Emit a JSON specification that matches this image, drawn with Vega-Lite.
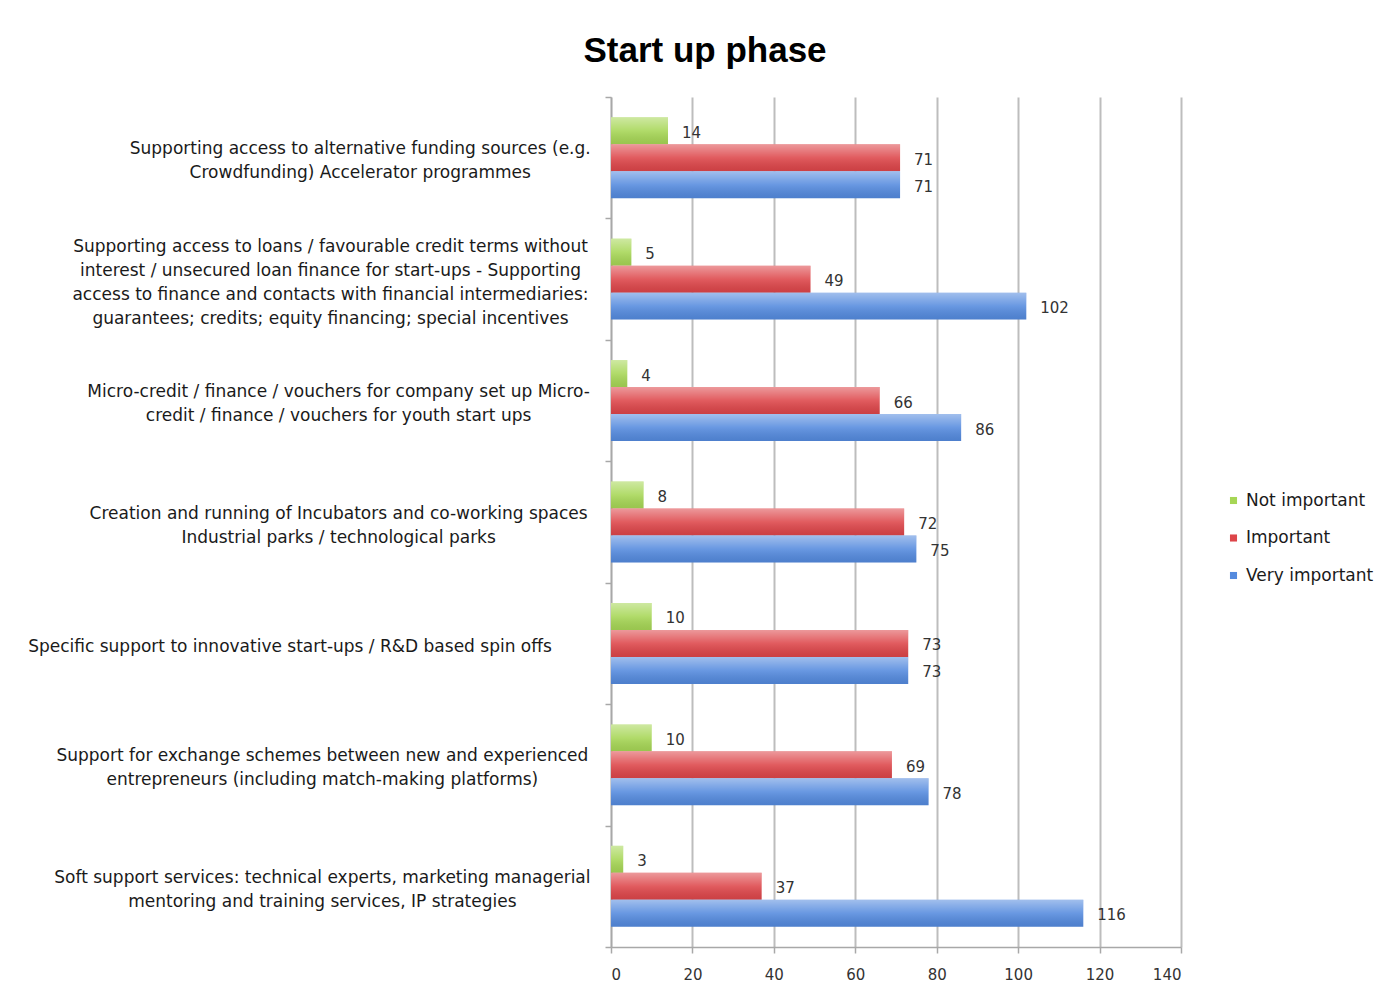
{
  "$schema": "https://vega.github.io/schema/vega-lite/v6.json",
  "autosize": {"type": "none"},
  "padding": {"left": 611, "top": 97, "right": 197, "bottom": 48},
  "width": 570,
  "height": 850,
  "background": "white",
  "title": {
    "text": "Start up phase",
    "anchor": "middle",
    "frame": "group",
    "dx": -191,
    "font": "Liberation Sans",
    "fontSize": 35,
    "fontWeight": "bold",
    "color": "#000000",
    "baseline": "alphabetic",
    "offset": -9
  },
  "config": {
    "view": {"stroke": null},
    "axis": {"labelFont": "DejaVu Sans", "titleFont": "DejaVu Sans"}
  },
  "data": {
    "values": [
      {"measure": "\u200b\u00a0\u00a0\u00a0\u00a0\u00a0\u00a0\u00a0\u00a0\u00a0\u00a0\u00a0Supporting access to alternative funding sources (e.g.|\u200b\u00a0\u00a0\u00a0\u00a0\u00a0\u00a0\u00a0\u00a0\u00a0\u00a0\u00a0Crowdfunding) Accelerator programmes", "level": "Not important", "count": 14},
      {"measure": "\u200b\u00a0\u00a0\u00a0\u00a0\u00a0\u00a0\u00a0\u00a0\u00a0\u00a0\u00a0Supporting access to alternative funding sources (e.g.|\u200b\u00a0\u00a0\u00a0\u00a0\u00a0\u00a0\u00a0\u00a0\u00a0\u00a0\u00a0Crowdfunding) Accelerator programmes", "level": "Important", "count": 71},
      {"measure": "\u200b\u00a0\u00a0\u00a0\u00a0\u00a0\u00a0\u00a0\u00a0\u00a0\u00a0\u00a0Supporting access to alternative funding sources (e.g.|\u200b\u00a0\u00a0\u00a0\u00a0\u00a0\u00a0\u00a0\u00a0\u00a0\u00a0\u00a0Crowdfunding) Accelerator programmes", "level": "Very important", "count": 71},
      {"measure": "Supporting access to loans / favourable credit terms without|interest / unsecured loan finance for start-ups - Supporting|access to finance and contacts with financial intermediaries:|guarantees; credits;  equity financing; special incentives", "level": "Not important", "count": 5},
      {"measure": "Supporting access to loans / favourable credit terms without|interest / unsecured loan finance for start-ups - Supporting|access to finance and contacts with financial intermediaries:|guarantees; credits;  equity financing; special incentives", "level": "Important", "count": 49},
      {"measure": "Supporting access to loans / favourable credit terms without|interest / unsecured loan finance for start-ups - Supporting|access to finance and contacts with financial intermediaries:|guarantees; credits;  equity financing; special incentives", "level": "Very important", "count": 102},
      {"measure": "\u200b\u00a0\u00a0\u00a0Micro-credit / finance / vouchers for company set up Micro-|\u200b\u00a0\u00a0\u00a0credit / finance / vouchers for youth start ups", "level": "Not important", "count": 4},
      {"measure": "\u200b\u00a0\u00a0\u00a0Micro-credit / finance / vouchers for company set up Micro-|\u200b\u00a0\u00a0\u00a0credit / finance / vouchers for youth start ups", "level": "Important", "count": 66},
      {"measure": "\u200b\u00a0\u00a0\u00a0Micro-credit / finance / vouchers for company set up Micro-|\u200b\u00a0\u00a0\u00a0credit / finance / vouchers for youth start ups", "level": "Very important", "count": 86},
      {"measure": "\u200b\u00a0\u00a0\u00a0Creation and running of Incubators and co-working spaces|\u200b\u00a0\u00a0\u00a0Industrial parks / technological parks", "level": "Not important", "count": 8},
      {"measure": "\u200b\u00a0\u00a0\u00a0Creation and running of Incubators and co-working spaces|\u200b\u00a0\u00a0\u00a0Industrial parks / technological parks", "level": "Important", "count": 72},
      {"measure": "\u200b\u00a0\u00a0\u00a0Creation and running of Incubators and co-working spaces|\u200b\u00a0\u00a0\u00a0Industrial parks / technological parks", "level": "Very important", "count": 75},
      {"measure": "Specific support to innovative start-ups / R&D based spin offs\u00a0\u00a0\u00a0\u00a0\u00a0\u00a0\u00a0\u00a0\u00a0\u00a0\u00a0\u00a0\u00a0\u00a0\u00a0\u200b", "level": "Not important", "count": 10},
      {"measure": "Specific support to innovative start-ups / R&D based spin offs\u00a0\u00a0\u00a0\u00a0\u00a0\u00a0\u00a0\u00a0\u00a0\u00a0\u00a0\u00a0\u00a0\u00a0\u00a0\u200b", "level": "Important", "count": 73},
      {"measure": "Specific support to innovative start-ups / R&D based spin offs\u00a0\u00a0\u00a0\u00a0\u00a0\u00a0\u00a0\u00a0\u00a0\u00a0\u00a0\u00a0\u00a0\u00a0\u00a0\u200b", "level": "Very important", "count": 73},
      {"measure": "Support for exchange schemes between new and experienced\u00a0\u00a0\u00a0\u200b|entrepreneurs (including match-making platforms)\u00a0\u00a0\u00a0\u200b", "level": "Not important", "count": 10},
      {"measure": "Support for exchange schemes between new and experienced\u00a0\u00a0\u00a0\u200b|entrepreneurs (including match-making platforms)\u00a0\u00a0\u00a0\u200b", "level": "Important", "count": 69},
      {"measure": "Support for exchange schemes between new and experienced\u00a0\u00a0\u00a0\u200b|entrepreneurs (including match-making platforms)\u00a0\u00a0\u00a0\u200b", "level": "Very important", "count": 78},
      {"measure": "Soft support services: technical experts, marketing managerial\u00a0\u00a0\u00a0\u200b|mentoring and training services, IP strategies\u00a0\u00a0\u00a0\u200b", "level": "Not important", "count": 3},
      {"measure": "Soft support services: technical experts, marketing managerial\u00a0\u00a0\u00a0\u200b|mentoring and training services, IP strategies\u00a0\u00a0\u00a0\u200b", "level": "Important", "count": 37},
      {"measure": "Soft support services: technical experts, marketing managerial\u00a0\u00a0\u00a0\u200b|mentoring and training services, IP strategies\u00a0\u00a0\u00a0\u200b", "level": "Very important", "count": 116}
    ]
  },
  "encoding": {
    "y": {
      "field": "measure",
      "type": "nominal",
      "sort": null,
      "scale": {"paddingInner": 0, "paddingOuter": 0},
      "axis": {
        "title": null,
        "labelExpr": "length(split(datum.label, '|')) == 1 ? ['\u200b\u00a0\u200b', '\u200b\u00a0\u200b', '\u200b\u00a0\u200b', datum.label] : length(split(datum.label, '|')) == 2 ? ['\u200b\u00a0\u200b', '\u200b\u00a0\u200b', split(datum.label, '|')[0], '\u200b\u00a0\u200b', split(datum.label, '|')[1]] : [split(datum.label, '|')[0], '\u200b\u00a0\u200b', split(datum.label, '|')[1], '\u200b\u00a0\u200b', split(datum.label, '|')[2], '\u200b\u00a0\u200b', split(datum.label, '|')[3]]",
        "labelAlign": "center",
        "labelBaseline": "middle",
        "labelFont": "DejaVu Sans",
        "labelFontSize": 17,
        "labelColor": "#1a1a1a",
        "labelLineHeight": 12,
        "labelOffset": -33,
        "labelLimit": 0,
        "labelPadding": 275,
        "tickBand": "extent",
        "tickSize": 6,
        "tickColor": "#a8a8a8",
        "tickWidth": 1.5,
        "domainColor": "#a8a8a8",
        "domainWidth": 1.5,
        "grid": false
      }
    },
    "x": {
      "field": "count",
      "type": "quantitative",
      "scale": {"domain": [0, 140], "nice": false},
      "axis": {
        "title": null,
        "values": [0, 20, 40, 60, 80, 100, 120, 140],
        "grid": true,
        "gridColor": "#bdbdbd",
        "gridWidth": 2,
        "domainColor": "#a8a8a8",
        "domainWidth": 1.5,
        "tickColor": "#a8a8a8",
        "tickSize": 6,
        "tickWidth": 1.5,
        "labelFont": "DejaVu Sans",
        "labelFontSize": 15,
        "labelColor": "#333333",
        "labelPadding": 14
      }
    },
    "yOffset": {
      "field": "level",
      "type": "nominal",
      "sort": ["Not important", "Important", "Very important"],
      "scale": {"paddingInner": 0, "paddingOuter": 0.75}
    }
  },
  "layer": [
    {
      "mark": {"type": "bar"},
      "encoding": {
        "color": {
          "field": "level",
          "type": "nominal",
          "sort": ["Not important", "Important", "Very important"],
          "scale": {
            "domain": ["Not important", "Important", "Very important"],
            "range": ["#a6d655", "#dd4549", "#548ade"]
          },
          "legend": {
            "title": null,
            "orient": "none",
            "legendX": 614,
            "legendY": 395,
            "symbolType": "square",
            "symbolSize": 50,
            "symbolStrokeWidth": 0,
            "labelFont": "DejaVu Sans",
            "labelFontSize": 17,
            "labelColor": "#1a1a1a",
            "labelOffset": 4,
            "rowPadding": 19.5
          }
        }
      }
    },
    {
      "mark": {
        "type": "bar",
        "color": {
          "gradient": "linear",
          "x1": 0, "y1": 0, "x2": 0, "y2": 1,
          "stops": [
            {"offset": 0, "color": "rgba(255,255,255,0.45)"},
            {"offset": 0.5, "color": "rgba(255,255,255,0.12)"},
            {"offset": 1, "color": "rgba(0,0,0,0.08)"}
          ]
        }
      },
      "encoding": {}
    },
    {
      "mark": {
        "type": "text",
        "align": "left",
        "baseline": "middle",
        "dx": 14,
        "dy": 2,
        "font": "DejaVu Sans",
        "fontSize": 15,
        "color": "#333333"
      },
      "encoding": {"text": {"field": "count", "type": "quantitative"}}
    }
  ]
}
